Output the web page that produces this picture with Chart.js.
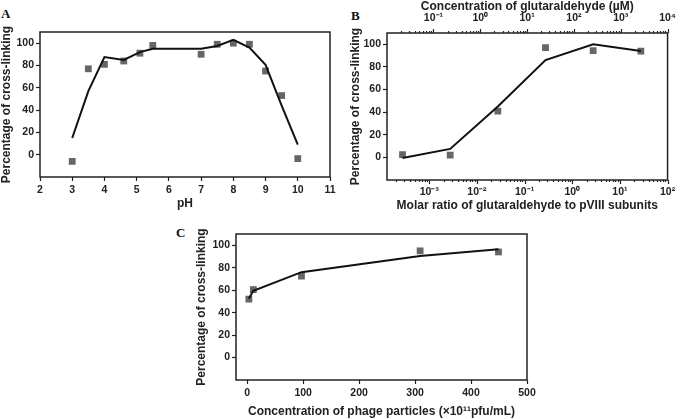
<!DOCTYPE html>
<html>
<head>
<meta charset="utf-8">
<script src="https://cdn.jsdelivr.net/npm/chart.js@4.4.1/dist/chart.umd.min.js"></script>
<style>
  html, body { margin: 0; padding: 0; background: #fff; }
  body { width: 685px; height: 419px; position: relative; overflow: hidden; }
  .panel { position: absolute; }
  .tag { position: absolute; font: bold 13px "Liberation Serif", "Times New Roman", serif; color: #111; }
</style>
</head>
<body>
<div class="tag" style="left:1px;top:6px">A</div>
<div class="tag" style="left:351px;top:8px">B</div>
<div class="tag" style="left:176px;top:225px">C</div>
<div class="panel" style="left:0;top:0"><canvas id="chartA" width="340" height="215"></canvas></div>
<div class="panel" style="left:340px;top:0"><canvas id="chartB" width="345" height="215"></canvas></div>
<div class="panel" style="left:160px;top:215px"><canvas id="chartC" width="400" height="204"></canvas></div>
<script>
// panel A - pH
const phValues = [3, 3.5, 4, 4.6, 5.1, 5.5, 7, 7.5, 8, 8.5, 9, 9.5, 10];
const phMeasured = [-6, 77, 81, 84, 91, 98, 90, 99, 100, 99, 75, 53, -3.5];
const phFit = [15, 57, 87.5, 85, 92, 95, 95, 97.5, 103, 96, 80.5, 44, 9];
const phTicks = [2, 3, 4, 5, 6, 7, 8, 9, 10, 11];

// panel B - glutaraldehyde
const molarRatio = [0.000275, 0.00275, 0.0275, 0.275, 2.75, 27.5];
const ratioMeasured = [2.5, 2, 41, 97, 94.5, 94];
const ratioFit = [-0.5, 7.5, 45, 86, 100, 94];

// panel C - phage particles
const phageConc = [3, 11, 97, 309, 449];
const phageMeasured = [52, 60.5, 72.5, 95, 94];
const phageFit = [52.5, 59.5, 76, 90.5, 96.5];
const phageTicks = [0, 100, 200, 300, 400, 500];

const percentTicks = [0, 20, 40, 60, 80, 100];

const ink = '#222';
const dotColor = '#666';
const sans = '"Liberation Sans", Arial, Helvetica, sans-serif';
const yTitle = 'Percentage of cross-linking';

Chart.defaults.font.family = sans;
Chart.defaults.font.weight = 'bold';
Chart.defaults.color = ink;

const tickFont = { family: sans, size: 10.5, weight: 'bold' };

const frame = {
  id: 'frame',
  afterDraw(chart) {
    const a = chart.chartArea, ctx = chart.ctx;
    ctx.save();
    ctx.lineWidth = 1.5;
    ctx.strokeStyle = ink;
    ctx.strokeRect(a.left, a.top, a.right - a.left, a.bottom - a.top);
    ctx.restore();
  }
};

function isPower(v) {
  const l = Math.log10(v);
  return Math.abs(l - Math.round(l)) < 1e-9;
}

const sup = { '-': '\u207B', '0': '\u2070', '1': '\u00B9', '2': '\u00B2', '3': '\u00B3', '4': '\u2074' };
function powLabel(v) {
  if (!isPower(v)) return '';
  const e = String(Math.round(Math.log10(v)));
  return '10' + e.split('').map(c => sup[c]).join('');
}

function decadeTicks(scale) {
  const out = [];
  const lo = Math.floor(Math.log10(scale.min)), hi = Math.ceil(Math.log10(scale.max));
  for (let e = lo; e <= hi; e++) {
    for (let m = 1; m <= 9; m++) {
      const v = m * Math.pow(10, e);
      if (v >= scale.min && v <= scale.max * 1.0001) out.push({ value: v });
    }
  }
  scale.ticks = out;
}

// short marks for minor decades, longer for powers of ten
const logMarks = {
  id: 'logMarks',
  afterDraw(chart) {
    const ctx = chart.ctx;
    ctx.save();
    ctx.strokeStyle = ink;
    ctx.lineWidth = 1.2;
    ['x', 'x2'].forEach(id => {
      const s = chart.scales[id];
      const top = s.position === 'top';
      const edge = top ? s.bottom : s.top;
      s.ticks.forEach(t => {
        const len = isPower(t.value) ? 4 : 2;
        const px = Math.round(s.getPixelForValue(t.value)) + 0.5;
        ctx.beginPath();
        ctx.moveTo(px, edge);
        ctx.lineTo(px, top ? edge - len : edge + len);
        ctx.stroke();
      });
    });
    ctx.restore();
  }
};

function pairs(xs, ys) {
  return xs.map((x, i) => ({ x: x, y: ys[i] }));
}

function series(xs, measured, fit) {
  return [
    { data: pairs(xs, fit), showLine: true, borderColor: '#111', borderWidth: 2, pointRadius: 0, tension: 0 },
    { data: pairs(xs, measured), pointStyle: 'rect', pointRadius: 4.8, backgroundColor: dotColor, borderWidth: 0 }
  ];
}

function titleOpts(text, padding) {
  return { display: true, text: text, color: ink, font: { family: sans, size: 12, weight: 'bold', lineHeight: 1 }, padding: padding };
}

function yScale(width) {
  return {
    min: -20, max: 110,
    afterBuildTicks: s => { s.ticks = percentTicks.map(v => ({ value: v })); },
    afterFit: s => { s.width = width; },
    grid: { drawOnChartArea: false, tickLength: 4, tickColor: ink, tickWidth: 1.2 },
    border: { display: false },
    ticks: { padding: 2, color: ink, font: tickFont },
    title: titleOpts(yTitle, 0)
  };
}

function linearX(min, max, tickValues, height, title, titlePad) {
  return {
    type: 'linear', min: min, max: max,
    afterBuildTicks: s => { s.ticks = tickValues.map(v => ({ value: v })); },
    afterFit: s => { s.height = height; },
    grid: { drawOnChartArea: false, tickLength: 4, tickColor: ink, tickWidth: 1.2 },
    border: { display: false },
    ticks: { padding: 3, maxRotation: 0, autoSkip: false, color: ink, font: tickFont },
    title: titleOpts(title, { top: 0, bottom: titlePad })
  };
}

function baseOptions(padding) {
  return {
    responsive: false,
    animation: false,
    layout: { padding: padding, autoPadding: false },
    plugins: { legend: { display: false }, tooltip: { enabled: false } }
  };
}

// A
const optsA = baseOptions({ left: 1, top: 32, right: 10, bottom: 0 });
optsA.scales = {
  x: linearX(2, 11, phTicks, 38, 'pH', 5),
  y: yScale(39)
};
new Chart(document.getElementById('chartA'), {
  type: 'scatter',
  data: { datasets: series(phValues, phMeasured, phFit) },
  options: optsA,
  plugins: [frame]
});

// B
function logX(position, min, max, height, title, pad, titlePad) {
  return {
    type: 'logarithmic', position: position, display: true, min: min, max: max,
    afterBuildTicks: decadeTicks,
    afterFit: s => { s.height = height; },
    grid: { display: false, drawTicks: false, tickLength: 0 },
    border: { display: false },
    ticks: { padding: pad, maxRotation: 0, autoSkip: false, color: ink, font: tickFont, callback: v => powLabel(v) },
    title: titleOpts(title, titlePad)
  };
}
const optsB = baseOptions({ left: 10, top: 0, right: 10, bottom: 0 });
optsB.scales = {
  x: logX('bottom', 0.00013, 100, 35, 'Molar ratio of glutaraldehyde to pVIII subunits', 6, { top: 0, bottom: 3 }),
  x2: logX('top', 0.0102, 10000, 33, 'Concentration of glutaraldehyde (\u00B5M)', 9, { top: 1, bottom: 0 }),
  y: yScale(37)
};
new Chart(document.getElementById('chartB'), {
  type: 'scatter',
  data: { datasets: series(molarRatio, ratioMeasured, ratioFit) },
  options: optsB,
  plugins: [frame, logMarks]
});

// C
const optsC = baseOptions({ left: 36, top: 19, right: 33, bottom: 0 });
optsC.scales = {
  x: linearX(-20, 500, phageTicks, 39, 'Concentration of phage particles (\u00D710\u00B9\u00B9pfu/mL)', 1),
  y: yScale(40)
};
new Chart(document.getElementById('chartC'), {
  type: 'scatter',
  data: { datasets: series(phageConc, phageMeasured, phageFit) },
  options: optsC,
  plugins: [frame]
});
</script>
</body>
</html>
